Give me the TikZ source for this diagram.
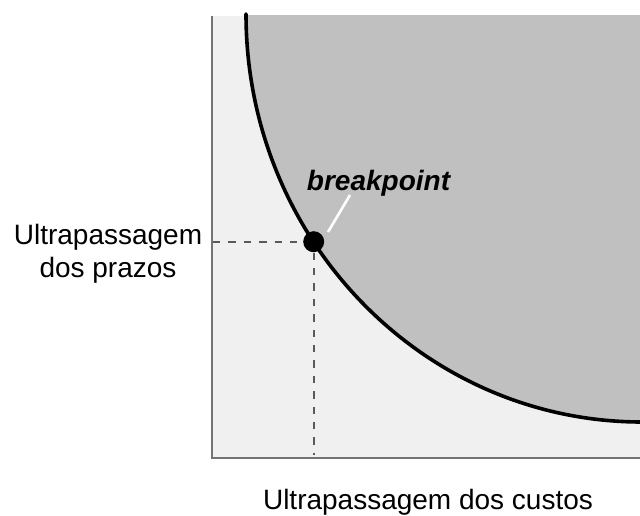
\documentclass[tikz,border=0pt]{standalone}
\usepackage{fontspec}
\setmainfont{Liberation Sans}
\definecolor{regionlight}{HTML}{F0F0F0}
\definecolor{regiondark}{HTML}{C0C0C0}
\definecolor{axisgray}{HTML}{737373}
\definecolor{guidegray}{HTML}{5A5A5A}
\begin{document}
\begin{tikzpicture}[x=0.5pt, y=0.5pt, axis line/.style={draw=axisgray,line width=1pt}, curve line/.style={line width=1.8pt,line cap=round}, guide line/.style={draw=guidegray,line width=0.8pt,dash pattern=on 3.7pt off 4pt}, pointer line/.style={draw=white,line width=1.3pt}, dot node/.style={circle,fill=black,minimum size=10.5pt,inner sep=0pt}]%px grid, y up
\useasboundingbox (0,0) rectangle (640,515);
\fill[regionlight] (212,57) rectangle (640,499);
\begin{scope}
\clip (212,57) rectangle (640,499);
\fill[regiondark] (642,501) ellipse [x radius=396, y radius=408];
\end{scope}
\draw[curve line] (246,501) arc[start angle=180, end angle=270, x radius=396, y radius=408];
\coordinate (origin) at (212,57);
\coordinate (ytop) at (212,499);
\coordinate (xend) at (640,57);
\draw[axis line] (ytop) -- (origin) -- (xend);
\node[dot node] (bp) at (313.7,273.3) {};
\coordinate (yfoot) at (213,273.3);
\coordinate (xfoot) at (313.7,60);
\draw[guide line] (yfoot) -- (bp);
\draw[guide line] (bp) -- (xfoot);
\begin{scope}[every node/.style={font=\fontsize{14}{16.5}\selectfont,inner sep=0pt}]
\node[font=\fontsize{14}{16.5}\selectfont\bfseries\itshape, anchor=base] (bplabel) at (378.5,325) {breakpoint};
\node[align=center] (ylabel) at (108,260.8) {Ultrapassagem\\dos prazos};
\node[anchor=base] (xlabel) at (428,6) {Ultrapassagem dos custos};
\end{scope}
\coordinate (pstart) at (328,283);
\coordinate (pend) at (350,320);
\draw[pointer line] (pstart) -- (pend);
\end{tikzpicture}
\end{document}
